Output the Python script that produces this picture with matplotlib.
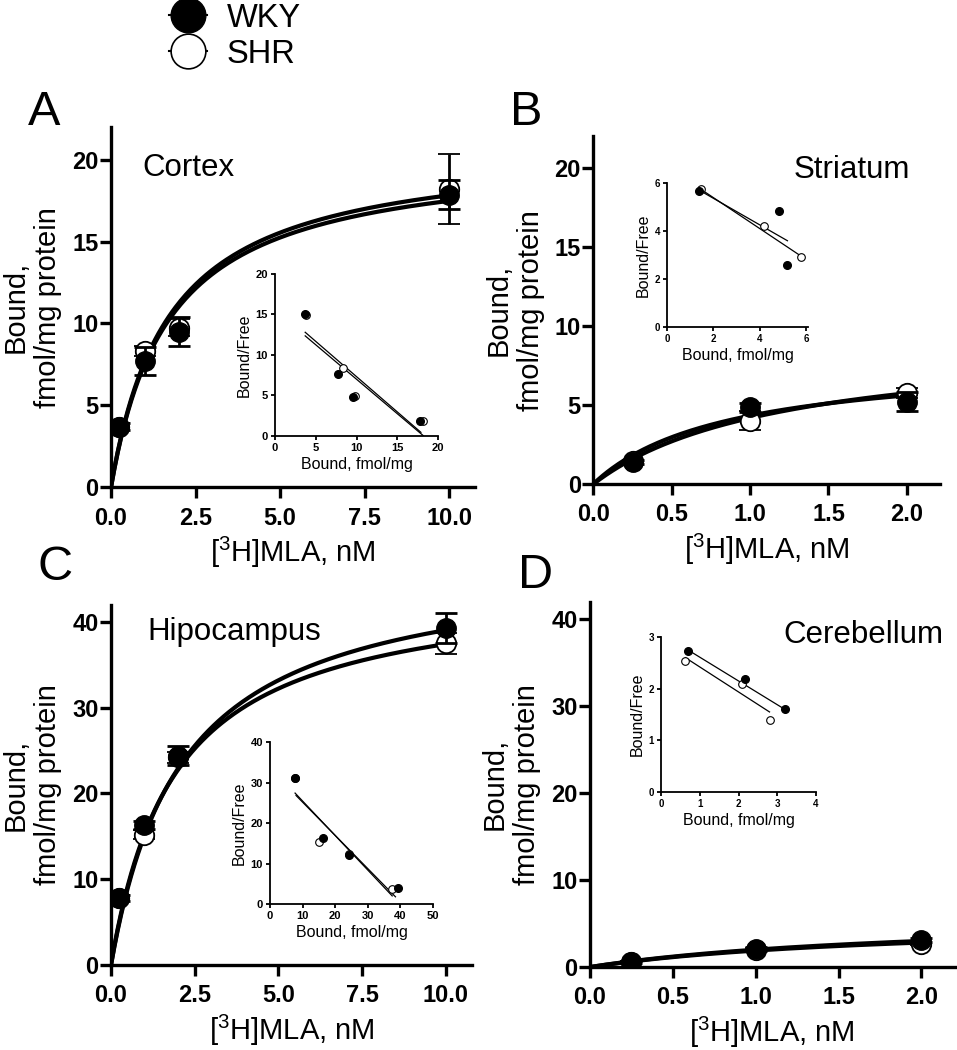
import numpy as np
import matplotlib
matplotlib.use("Agg")
import matplotlib.pyplot as plt
from matplotlib.lines import Line2D
from matplotlib.ticker import FormatStrFormatter

plt.rcParams['font.family'] = ['Liberation Sans', 'DejaVu Sans']
plt.rcParams['mathtext.fontset'] = 'custom'
plt.rcParams['mathtext.rm'] = 'Liberation Sans'

# ---- saturation data (x = [3H]MLA nM, y = fmol/mg protein) ----
conc_long = [0.25, 1, 2, 10]
conc_short = [0.25, 1, 2]

cortex_wky = [3.7, 7.7, 9.5, 17.87]
cortex_wky_err = [0.2, 0.85, 0.88, 0.9]
cortex_shr = [3.7, 8.3, 9.75, 18.2]
cortex_shr_err = [0.2, 0.3, 0.5, 2.15]

striatum_wky = [1.4, 4.85, 5.2]
striatum_wky_err = [0.1, 0.3, 0.6]
striatum_shr = [1.45, 4.0, 5.76]
striatum_shr_err = [0.1, 0.6, 0.3]

hippo_wky = [7.8, 16.3, 24.4, 39.3]
hippo_wky_err = [0.3, 0.5, 1.1, 1.7]
hippo_shr = [7.8, 15.2, 24.2, 37.5]
hippo_shr_err = [0.3, 0.5, 0.6, 1.2]

cereb_wky = [0.6, 2.1, 3.1]
cereb_wky_err = [0.1, 0.2, 0.2]
cereb_shr = [0.6, 2.0, 2.7]
cereb_shr_err = [0.1, 0.2, 0.2]

# one-site fits (Bmax, Kd)
fit_cortex = {'WKY': (20.9, 1.72), 'SHR': (20.5, 1.72)}
fit_striatum = {'WKY': (8.0, 0.85), 'SHR': (9.2, 1.2)}
fit_hippo = {'WKY': (47.4, 2.14), 'SHR': (44.6, 1.92)}
fit_cereb = {'WKY': (6.0, 2.0), 'SHR': (5.5, 1.9)}

# ---- Scatchard insets (Bound, Bound/Free) ----
sc_cortex_wky_b = [3.7, 7.7, 9.6, 17.8]
sc_cortex_wky_bf = [15.0, 7.7, 4.8, 1.8]
sc_cortex_shr_b = [3.8, 8.4, 9.8, 18.2]
sc_cortex_shr_bf = [14.9, 8.4, 4.9, 1.8]

sc_striatum_wky_b = [1.4, 4.85, 5.2]
sc_striatum_wky_bf = [5.65, 4.85, 2.6]
sc_striatum_shr_b = [1.45, 4.2, 5.8]
sc_striatum_shr_bf = [5.75, 4.2, 2.9]

sc_hippo_wky_b = [7.7, 16.2, 24.3, 39.3]
sc_hippo_wky_bf = [31.0, 16.3, 12.2, 3.9]
sc_hippo_shr_b = [7.6, 15.1, 24.2, 37.5]
sc_hippo_shr_bf = [31.2, 15.2, 12.3, 3.7]

sc_cereb_wky_b = [0.7, 2.17, 3.2]
sc_cereb_wky_bf = [2.73, 2.18, 1.6]
sc_cereb_shr_b = [0.63, 2.1, 2.8]
sc_cereb_shr_bf = [2.54, 2.1, 1.4]

# linear fits: (slope, intercept, x start, x end)
lin_cortex = {'WKY': (-0.87, 16.02, 3.7, 17.9), 'SHR': (-0.85, 15.5, 3.7, 18.2)}
lin_striatum = {'WKY': (-0.553, 6.47, 1.4, 5.2), 'SHR': (-0.644, 6.68, 1.45, 5.8)}
lin_hippo = {'WKY': (-0.852, 33.96, 7.7, 37.5), 'SHR': (-0.820, 33.36, 8.0, 38.5)}
lin_cereb = {'WKY': (-0.46, 3.07, 0.7, 3.2), 'SHR': (-0.484, 2.905, 0.63, 2.8)}

fig = plt.figure(figsize=(9.57, 10.5), dpi=100)


def main_panel(rect, x, wky, wkye, shr, shre, fits, xmax, ymax, xticks, yticks):
    ax = fig.add_axes(rect)
    xs = np.linspace(0, x[-1], 200)
    for name in ['SHR', 'WKY']:
        bmax, kd = fits[name]
        ax.plot(xs, bmax * xs / (kd + xs), color='black', lw=3, zorder=2)
    ax.errorbar(x, shr, yerr=shre, fmt='o', ms=14, mfc='white', mec='black', mew=1.3,
                ecolor='black', elinewidth=2, capsize=8, capthick=2, zorder=3)
    ax.errorbar(x, wky, yerr=wkye, fmt='o', ms=14, mfc='black', mec='black',
                ecolor='black', elinewidth=2, capsize=8, capthick=2, zorder=4)
    ax.set_xlim(0, xmax)
    ax.set_ylim(0, ymax)
    ax.set_xticks(xticks)
    ax.set_yticks(yticks)
    ax.xaxis.set_major_formatter(FormatStrFormatter('%.1f'))
    for s in ['top', 'right']:
        ax.spines[s].set_visible(False)
    for s in ['left', 'bottom']:
        ax.spines[s].set_linewidth(2.4)
    ax.tick_params(width=2.4, length=8)
    ax.tick_params(axis='x', pad=6)
    ax.tick_params(axis='y', pad=1)
    for lab in ax.get_xticklabels() + ax.get_yticklabels():
        lab.set_fontsize(17)
        lab.set_fontweight('bold')
    ax.set_xlabel(r'[$\mathregular{^3}$H]MLA, nM', fontsize=21, labelpad=4)
    ax.set_ylabel('Bound,\nfmol/mg protein', fontsize=21, labelpad=7)
    return ax


def inset(rect, wb, wbf, sb, sbf, lins, xmax, ymax, xticks, yticks, tfs):
    ax = fig.add_axes(rect)
    for name in ['WKY', 'SHR']:
        m, c, x0, x1 = lins[name]
        xs = np.array([x0, x1])
        ax.plot(xs, m * xs + c, color='black', lw=0.9, zorder=2)
    ax.plot(sb, sbf, 'o', ms=5.5, mfc='white', mec='black', mew=0.8, zorder=3)
    ax.plot(wb, wbf, 'o', ms=5.5, mfc='black', mec='black', zorder=4)
    ax.set_xlim(0, xmax)
    ax.set_ylim(0, ymax)
    ax.set_xticks(xticks)
    ax.set_yticks(yticks)
    ax.patch.set_alpha(0)
    for s in ['top', 'right']:
        ax.spines[s].set_visible(False)
    for s in ['left', 'bottom']:
        ax.spines[s].set_linewidth(1.3)
    ax.tick_params(width=1.3, length=3, pad=2)
    for lab in ax.get_xticklabels() + ax.get_yticklabels():
        lab.set_fontsize(tfs)
        lab.set_fontweight('bold')
    ax.set_xlabel('Bound, fmol/mg', fontsize=11.5, labelpad=3)
    ax.set_ylabel('Bound/Free', fontsize=11.5, labelpad=3)
    return ax


axA = main_panel([0.116, 0.536, 0.380, 0.343], conc_long, cortex_wky, cortex_wky_err,
                 cortex_shr, cortex_shr_err, fit_cortex, 10.75, 22,
                 [0, 2.5, 5, 7.5, 10], [0, 5, 10, 15, 20])
axB = main_panel([0.620, 0.539, 0.362, 0.331], conc_short, striatum_wky, striatum_wky_err,
                 striatum_shr, striatum_shr_err, fit_striatum, 2.21, 22,
                 [0, 0.5, 1, 1.5, 2], [0, 5, 10, 15, 20])
axC = main_panel([0.116, 0.081, 0.377, 0.343], conc_long, hippo_wky, hippo_wky_err,
                 hippo_shr, hippo_shr_err, fit_hippo, 10.78, 42,
                 [0, 2.5, 5, 7.5, 10], [0, 10, 20, 30, 40])
axD = main_panel([0.6165, 0.079, 0.381, 0.348], conc_short, cereb_wky, cereb_wky_err,
                 cereb_shr, cereb_shr_err, fit_cereb, 2.2, 42,
                 [0, 0.5, 1, 1.5, 2], [0, 10, 20, 30, 40])

inset([0.2874, 0.5848, 0.1703, 0.1543], sc_cortex_wky_b, sc_cortex_wky_bf,
      sc_cortex_shr_b, sc_cortex_shr_bf, lin_cortex, 20, 20,
      [0, 5, 10, 15, 20], [0, 5, 10, 15, 20], 8)
inset([0.697, 0.6886, 0.1476, 0.1371], sc_striatum_wky_b, sc_striatum_wky_bf,
      sc_striatum_shr_b, sc_striatum_shr_bf, lin_striatum, 6.1, 6,
      [0, 2, 4, 6], [0, 2, 4, 6], 7)
inset([0.2821, 0.139, 0.1703, 0.1543], sc_hippo_wky_b, sc_hippo_wky_bf,
      sc_hippo_shr_b, sc_hippo_shr_bf, lin_hippo, 50, 40,
      [0, 10, 20, 30, 40, 50], [0, 10, 20, 30, 40], 8)
inset([0.6907, 0.2457, 0.162, 0.1476], sc_cereb_wky_b, sc_cereb_wky_bf,
      sc_cereb_shr_b, sc_cereb_shr_bf, lin_cereb, 4, 3,
      [0, 1, 2, 3, 4], [0, 1, 2, 3], 7)

# region names
fig.text(142 / 957, 1 - 176 / 1050, 'Cortex', fontsize=22.5, ha='left', va='baseline')
fig.text(910 / 957, 1 - 178 / 1050, 'Striatum', fontsize=22.5, ha='right', va='baseline')
fig.text(147 / 957, 1 - 640 / 1050, 'Hipocampus', fontsize=22.5, ha='left', va='baseline')
fig.text(943 / 957, 1 - 643 / 1050, 'Cerebellum', fontsize=22.5, ha='right', va='baseline')

# panel letters
for lbl, px, py in [('A', 28, 125), ('B', 510, 125), ('C', 38, 580), ('D', 518, 588)]:
    fig.text(px / 957, 1 - py / 1050, lbl, fontsize=35, ha='left', va='baseline')

handles = [Line2D([], [], color='black', lw=1.5, marker='o', ms=25, mfc='black', mec='black'),
           Line2D([], [], color='black', lw=1.5, marker='o', ms=25, mfc='white', mec='black', mew=1.2)]
fig.legend(handles, ['WKY', 'SHR'], loc='upper left', bbox_to_anchor=(153 / 957, 1.013),
           frameon=False, fontsize=23.5, handlelength=1.15, handletextpad=0.6,
           labelspacing=0.15, borderpad=0)

fig.savefig('out.png', dpi=100)
